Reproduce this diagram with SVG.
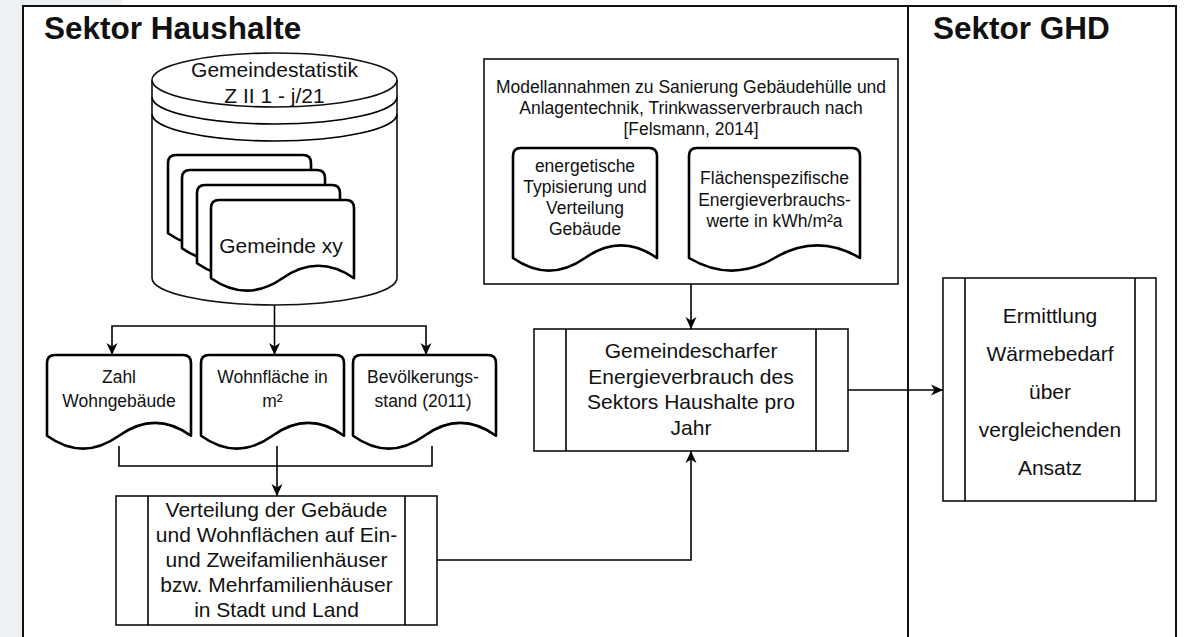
<svg xmlns="http://www.w3.org/2000/svg" xmlns:xlink="http://www.w3.org/1999/xlink" width="1185" height="637" viewBox="0 0 1185 637">
<style>
text{font-family:"Liberation Sans",Arial,sans-serif;fill:#111;text-anchor:middle}
.title{font-weight:bold;font-size:31.5px;text-anchor:start}
.t17{font-size:17.5px}
.t21{font-size:21px}
.box{fill:#fff;stroke:#111;stroke-width:1.6}
.doc{fill:#fff;stroke:#000;stroke-width:2.6;stroke-linejoin:round}
.frame{fill:none;stroke:#111;stroke-width:2}
.conn{fill:none;stroke:#000;stroke-width:1.6}
</style>
<defs>
<marker id="arr" markerUnits="userSpaceOnUse" markerWidth="14" markerHeight="14" viewBox="0 0 14 14" refX="13" refY="7" orient="auto">
<path d="M1,1.5 L13,7 L1,12.5 L4.5,7 Z" fill="#000"/>
</marker>
<path id="sdoc" d="M0,8 Q0,0 8,0 L135,0 Q143,0 143,8 L143,78.2 Q107.25,53.36 71.5,78.2 Q35.75,103.04 0,78.2 Z"/>
</defs>
<rect x="0" y="0" width="1185" height="637" fill="#fff"/>
<rect x="0" y="0" width="23" height="637" fill="#eef1f4"/>
<rect x="0" y="0" width="122" height="6" fill="#eef1f4"/>
<g id="frame">
<rect class="frame" x="23" y="6" width="1153" height="700"/>
<line class="frame" x1="908" y1="6" x2="908" y2="637"/>
<text class="title" x="44" y="39">Sektor Haushalte</text>
<text class="title" x="933" y="39">Sektor GHD</text>
</g>
<g id="cylinder">
<path class="box" d="M152,80 L152,278 A122.5,27 0 0 0 397,278 L397,80"/>
<ellipse class="box" cx="274.5" cy="80" rx="122.5" ry="27"/>
<path class="conn" d="M152,97 A122.5,27 0 0 0 397,97 M152,114 A122.5,27 0 0 0 397,114"/>
<text class="t21" x="274.5" y="77">Gemeindestatistik</text>
<text class="t21" x="274.5" y="103">Z II 1 - j/21</text>
<use xlink:href="#sdoc" href="#sdoc" class="doc" x="168" y="155"/>
<use xlink:href="#sdoc" href="#sdoc" class="doc" x="182" y="170"/>
<use xlink:href="#sdoc" href="#sdoc" class="doc" x="197" y="185"/>
<use xlink:href="#sdoc" href="#sdoc" class="doc" x="211" y="200"/>
<text class="t21" x="281" y="253">Gemeinde xy</text>
</g>
<g id="doc-zahl">
<path class="doc" d="M47,363 Q47,355 55,355 L183,355 Q191,355 191,363 L191,435.75 Q155,410.1 119,435.75 Q83,461.4 47,435.75 Z"/>
<text class="t17" x="119" y="383">Zahl</text>
<text class="t17" x="119" y="407">Wohngebäude</text>
</g>
<g id="doc-wohnflaeche">
<path class="doc" d="M201,363 Q201,355 209,355 L336,355 Q344,355 344,363 L344,435.75 Q308.25,410.1 272.5,435.75 Q236.75,461.4 201,435.75 Z"/>
<text class="t17" x="272.5" y="383">Wohnfläche in</text>
<text class="t17" x="272.5" y="407">m²</text>
</g>
<g id="doc-bevoelkerung">
<path class="doc" d="M353,363 Q353,355 361,355 L488,355 Q496,355 496,363 L496,435.75 Q460.25,410.1 424.5,435.75 Q388.75,461.4 353,435.75 Z"/>
<text class="t17" x="423" y="383">Bevölkerungs-</text>
<text class="t17" x="423" y="407">stand (2011)</text>
</g>
<g id="verteilung">
<rect class="box" x="116" y="496" width="321" height="129"/>
<line class="conn" x1="148" y1="496" x2="148" y2="625"/>
<line class="conn" x1="405" y1="496" x2="405" y2="625"/>
<text class="t21" x="276.5" y="516.5">Verteilung der Gebäude</text>
<text class="t21" x="276.5" y="541.5">und Wohnflächen auf Ein-</text>
<text class="t21" x="276.5" y="566.5">und Zweifamilienhäuser</text>
<text class="t21" x="276.5" y="591.5">bzw. Mehrfamilienhäuser</text>
<text class="t21" x="276.5" y="616.5">in Stadt und Land</text>
</g>
<g id="modellannahmen">
<rect class="box" x="484" y="59" width="414" height="225"/>
<text class="t17" x="691" y="92.5">Modellannahmen zu Sanierung Gebäudehülle und</text>
<text class="t17" x="691" y="113.8">Anlagentechnik, Trinkwasserverbrauch nach</text>
<text class="t17" x="691" y="135">[Felsmann, 2014]</text>
</g>
<g id="doc-typisierung">
<path class="doc" d="M513,156 Q513,148 521,148 L649,148 Q657,148 657,156 L657,258 Q621,232.8 585,258 Q549,283.2 513,258 Z"/>
<text class="t17" x="585" y="171.5">energetische</text>
<text class="t17" x="585" y="192.8">Typisierung und</text>
<text class="t17" x="585" y="214">Verteilung</text>
<text class="t17" x="585" y="235.3">Gebäude</text>
</g>
<g id="doc-flaechen">
<path class="doc" d="M689,156 Q689,148 697,148 L852,148 Q860,148 860,156 L860,258 Q817.25,232.8 774.5,258 Q731.75,283.2 689,258 Z"/>
<text class="t17" x="774.5" y="184">Flächenspezifische</text>
<text class="t17" x="774.5" y="205.5">Energieverbrauchs-</text>
<text class="t17" x="774.5" y="227">werte in kWh/m²a</text>
</g>
<g id="gemeindescharfer">
<rect class="box" x="534" y="329" width="314" height="122"/>
<line class="conn" x1="566" y1="329" x2="566" y2="451"/>
<line class="conn" x1="816" y1="329" x2="816" y2="451"/>
<text class="t21" x="691" y="358">Gemeindescharfer</text>
<text class="t21" x="691" y="383.5">Energieverbrauch des</text>
<text class="t21" x="691" y="409">Sektors Haushalte pro</text>
<text class="t21" x="691" y="434.5">Jahr</text>
</g>
<g id="ermittlung">
<rect class="box" x="943" y="278" width="213" height="223"/>
<line class="conn" x1="965" y1="278" x2="965" y2="501"/>
<line class="conn" x1="1135" y1="278" x2="1135" y2="501"/>
<text class="t21" x="1050" y="323">Ermittlung</text>
<text class="t21" x="1050" y="361">Wärmebedarf</text>
<text class="t21" x="1050" y="399">über</text>
<text class="t21" x="1050" y="437">vergleichenden</text>
<text class="t21" x="1050" y="475">Ansatz</text>
</g>
<g id="connectors">
<path class="conn" d="M274.5,305 L274.5,326"/>
<path class="conn" d="M274.5,326 L274.5,355" marker-end="url(#arr)"/>
<path class="conn" d="M274.5,326 L112,326 L112,355" marker-end="url(#arr)"/>
<path class="conn" d="M274.5,326 L426,326 L426,355" marker-end="url(#arr)"/>
<path class="conn" d="M119,446 L119,466 L432,466 L432,446"/>
<path class="conn" d="M277,446 L277,496" marker-end="url(#arr)"/>
<path class="conn" d="M437,560 L691,560 L691,451" marker-end="url(#arr)"/>
<path class="conn" d="M691,284 L691,329" marker-end="url(#arr)"/>
<path class="conn" d="M848,390 L943,390" marker-end="url(#arr)"/>
</g>
</svg>
